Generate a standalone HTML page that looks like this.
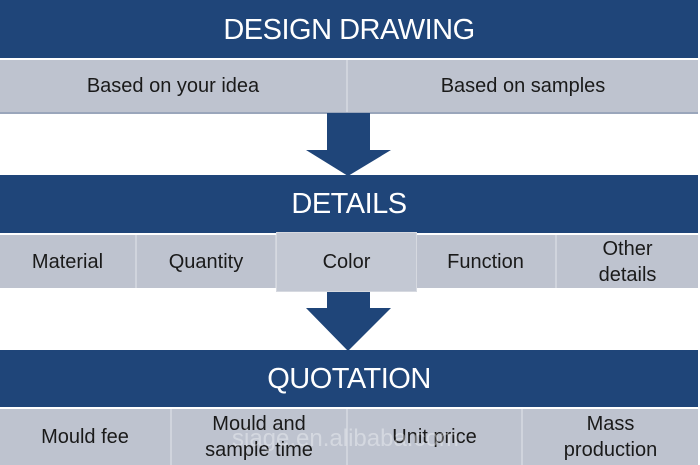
<!DOCTYPE html>
<html><head><style>
body{margin:0;width:700px;height:465px;background:#fff;position:relative;overflow:hidden;font-family:"Liberation Sans",sans-serif}
.h{position:absolute;left:0;width:698px;background:#1f4579;color:#fff;font-size:29px;text-align:center;letter-spacing:-0.5px}
.r{position:absolute;left:0;width:698px;background:#bec3cf;display:flex}
.c{flex:none;display:flex;align-items:center;justify-content:center;text-align:center;color:#1a1a1a;font-size:20px;line-height:26px;border-right:2px solid #d0d4dd;box-sizing:border-box}
.c:last-child{border-right:none}
</style></head><body>
<div class="h" style="top:0;height:58px;line-height:60px">DESIGN DRAWING</div>
<div class="r" style="top:60px;height:52px">
<div class="c" style="width:348px">Based on your idea</div>
<div class="c" style="width:350px">Based on samples</div></div>
<div style="position:absolute;left:0;top:112px;width:698px;height:2px;background:#9aa6bb"></div>
<svg style="position:absolute;left:0;top:0" width="700" height="465">
<polygon points="327,113 370,113 370,150 391,150 348,176 306,150 327,150" fill="#1f4579"/>
<polygon points="327,292 370,292 370,308 391,308 348,351 306,308 327,308" fill="#1f4579"/>
</svg>
<div class="h" style="top:175px;height:58px;line-height:58px">DETAILS</div>
<div class="r" style="top:235px;height:53px">
<div class="c" style="width:137px">Material</div>
<div class="c" style="width:140px">Quantity</div>
<div class="c" style="width:139px"></div>
<div class="c" style="width:141px">Function</div>
<div class="c" style="width:141px">Other<br>details</div></div>
<div style="position:absolute;left:276px;top:232px;width:141px;height:60px;background:#c3c8d3;border:1px solid #d6d9e0;box-sizing:border-box;display:flex;align-items:center;justify-content:center;font-size:20px;color:#1a1a1a">Color</div>
<div class="h" style="top:350px;height:57px;line-height:58px">QUOTATION</div>
<div class="r" style="top:409px;height:56px">
<div class="c" style="width:172px">Mould fee</div>
<div class="c" style="width:176px">Mould and<br>sample time</div>
<div class="c" style="width:175px">Unit price</div>
<div class="c" style="width:175px">Mass<br>production</div></div>
<div style="position:absolute;left:232px;top:425px;font-size:24px;color:rgba(255,255,255,0.35)">siage.en.alibaba.com</div>
</body></html>
